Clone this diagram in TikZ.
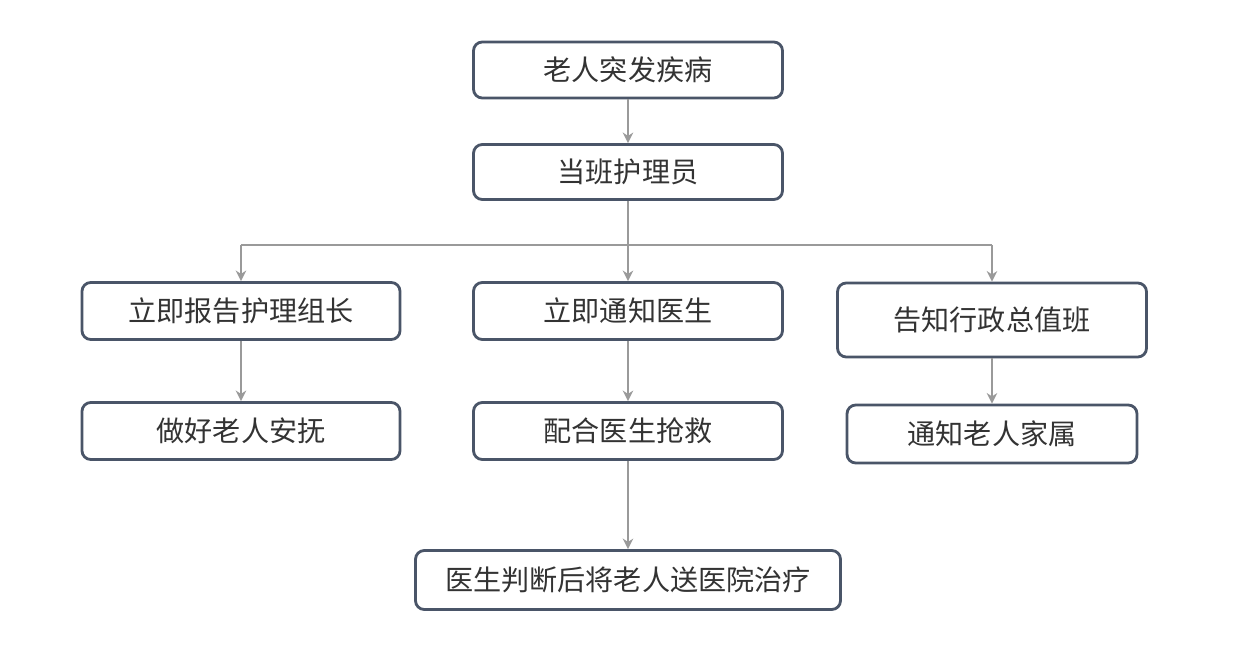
\documentclass[tikz,border=0pt]{standalone}
\usepackage{fontspec}
\newfontfamily\cjk{Noto Sans CJK SC}
\usetikzlibrary{arrows.meta}
\definecolor{boxline}{HTML}{4A5568}
\definecolor{arrline}{HTML}{9A9A9A}
\begin{document}
\begin{tikzpicture}[x=0.02cm,y=-0.02cm,
  flowbox/.style={draw=boxline,line width=1.6pt,rounded corners=5pt,fill=white,
    inner sep=0pt,font=\cjk\fontsize{16pt}{18pt}\selectfont,text=black!80},
  conn/.style={draw=arrline,line width=1.1pt,-{Stealth[length=6pt,width=6pt]}},
  plain/.style={draw=arrline,line width=1.1pt}]
\useasboundingbox (0,0) rectangle (1257,672);
\node[flowbox,minimum width=309*0.02cm,minimum height=56*0.02cm] (n1) at (628,70) {老人突发疾病};
\node[flowbox,minimum width=309*0.02cm,minimum height=55*0.02cm] (n2) at (628,172) {当班护理员};
\node[flowbox,minimum width=318*0.02cm,minimum height=57*0.02cm] (n3) at (241,311) {立即报告护理组长};
\node[flowbox,minimum width=309*0.02cm,minimum height=57*0.02cm] (n4) at (628,311) {立即通知医生};
\node[flowbox,minimum width=309*0.02cm,minimum height=74*0.02cm] (n5) at (992,320) {告知行政总值班};
\node[flowbox,minimum width=318*0.02cm,minimum height=57*0.02cm] (n6) at (241,431) {做好老人安抚};
\node[flowbox,minimum width=309*0.02cm,minimum height=57*0.02cm] (n7) at (628,431) {配合医生抢救};
\node[flowbox,minimum width=290*0.02cm,minimum height=58*0.02cm] (n8) at (992,434) {通知老人家属};
\node[flowbox,minimum width=425*0.02cm,minimum height=59*0.02cm] (n9) at (628,580) {医生判断后将老人送医院治疗};
\coordinate (jl) at (241,245);
\coordinate (jm) at (628,245);
\coordinate (jr) at (992,245);
\draw[conn] (n1) -- (n2);
\draw[conn] (n2) -- (n4);
\draw[plain] (jl) -- (jr);
\draw[conn] (jl) -- (n3);
\draw[conn] (jr) -- (n5);
\draw[conn] (n3) -- (n6);
\draw[conn] (n4) -- (n7);
\draw[conn] (n5) -- (n8);
\draw[conn] (n7) -- (n9);
\end{tikzpicture}
\end{document}
